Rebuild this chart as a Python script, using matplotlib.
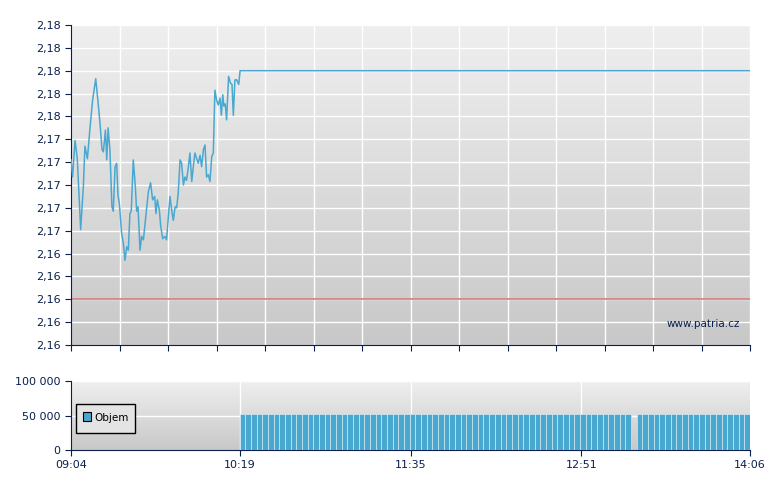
import numpy as np
import matplotlib
matplotlib.use("Agg")
import matplotlib.pyplot as plt
from matplotlib.patches import Rectangle

# minutes after 09:04
t = [0,0.7,1.8,2.8,4.3,5.5,6.2,7.3,8.5,9.6,11.0,12.2,12.9,13.8,14.4,15.3,15.9,16.5,17.3,18.2,18.8,19.6,20.3,20.9,21.5,
     22.5,23.3,24.0,24.8,25.5,26.2,26.8,27.7,28.6,29.2,29.8,30.7,31.4,32.2,33.4,34.4,35.4,36.3,37.2,37.8,38.4,39.3,39.9,
     40.8,41.8,42.5,43.3,44.0,44.8,45.5,46.3,47.0,47.7,48.5,49.2,50.0,50.7,51.4,52.2,52.9,53.7,54.4,55.1,55.9,56.6,57.4,
     58.1,58.9,59.6,60.3,61.1,61.8,62.6,63.3,64.0,64.8,65.5,66.3,66.9,67.5,68.0,68.6,69.2,70.1,71.0,71.6,72.2,72.9,73.7,
     74.6,75.2,302]
price = [2.1722,2.1707,2.1739,2.1723,2.1661,2.1699,2.1734,2.1723,2.1751,2.1774,2.1793,2.1769,2.1754,2.1731,2.1729,2.1748,
         2.1722,2.1750,2.1731,2.1681,2.1677,2.1716,2.1719,2.1691,2.1684,2.1658,2.1649,2.1634,2.1646,2.1643,2.1675,2.1677,
         2.1722,2.1699,2.1677,2.1681,2.1643,2.1655,2.1652,2.1675,2.1694,2.1702,2.1687,2.1690,2.1675,2.1687,2.1678,2.1664,
         2.1653,2.1655,2.1652,2.1672,2.1690,2.1678,2.1669,2.1681,2.1680,2.1693,2.1722,2.1719,2.1700,2.1707,2.1704,2.1716,
         2.1728,2.1703,2.1716,2.1728,2.1723,2.1719,2.1726,2.1716,2.1731,2.1735,2.1707,2.1709,2.1703,2.1725,2.1728,2.1783,
         2.1774,2.1770,2.1776,2.1761,2.1779,2.1769,2.1771,2.1757,2.1795,2.1789,2.1788,2.1761,2.1792,2.1792,2.1788,2.1800,
         2.1800]
ref_price = 2.160
y_ticks = [2.156,2.158,2.160,2.162,2.164,2.166,2.168,2.170,2.172,2.174,2.176,2.178,2.180,2.182,2.184]
y_labels = ["2,16"]*5 + ["2,17"]*5 + ["2,18"]*5
x_tick_min = [0,75,151,227,302]
x_tick_labels = ["09:04","10:19","11:35","12:51","14:06"]

vol_n = 90
vol_t = list(np.linspace(75, 299.5, vol_n))
vol = [52000]*vol_n
vol[69] = 0

navy = "#0a1f4f"
line_c = "#4aa8d0"
fig = plt.figure(figsize=(7.8, 4.9), dpi=100)
fig.patch.set_facecolor("white")

def grad(ax):
    g = np.linspace(0, 1, 256).reshape(-1, 1)
    ax.imshow(g, extent=[0, 1, 0, 1], transform=ax.transAxes, aspect="auto",
              cmap=matplotlib.colors.LinearSegmentedColormap.from_list("g", ["#c8c8c8", "#efefef"]),
              origin="lower", zorder=0)

def style(ax):
    for s in ["top", "right"]:
        ax.spines[s].set_visible(False)
    for s in ["left", "bottom"]:
        ax.spines[s].set_color(navy)
    ax.tick_params(colors=navy, labelcolor=navy, labelsize=8, length=4, width=0.8)

ax = fig.add_axes([71/780, 1-345/490, 679/780, 320/490])
grad(ax)
style(ax)
ax.set_xlim(0, 302)
ax.set_ylim(2.156, 2.184)
ax.set_yticks(y_ticks)
ax.set_yticklabels(y_labels)
xg = np.linspace(0, 302, 15)
ax.set_xticks(xg)
ax.set_xticklabels([])
for x in xg[1:]:
    ax.axvline(x, color="white", lw=1, zorder=1)
for y in y_ticks[1:]:
    ax.axhline(y, color="white", lw=1, zorder=1)
ax.axhline(ref_price, color="#d97a7a", lw=1.2, zorder=2)
ax.plot(t, price, color=line_c, lw=1.1, zorder=3)
ax.text(0.985, 0.065, "www.patria.cz", transform=ax.transAxes, ha="right", va="center",
        color=navy, fontsize=7.5, zorder=4)

bx = fig.add_axes([71/780, 1-450/490, 679/780, 69/490])
grad(bx)
style(bx)
bx.set_xlim(0, 302)
bx.set_ylim(0, 100000)
bx.set_yticks([0, 50000, 100000])
bx.set_yticklabels(["0", "50 000", "100 000"])
bx.set_xticks(x_tick_min)
bx.set_xticklabels(x_tick_labels)
for x in x_tick_min[1:-1]:
    bx.axvline(x, color="white", lw=1, zorder=1)
for y in [50000, 100000]:
    bx.axhline(y, color="white", lw=1, zorder=1)
bx.bar(vol_t, vol, width=2.52, align="edge", color="#48a8d0", edgecolor="#e8f2f8", linewidth=0.4, zorder=3)
bx.add_patch(Rectangle((0.007, 0.25), 0.087, 0.42, transform=bx.transAxes, facecolor="#e4e4e4",
                       edgecolor="black", lw=1, zorder=5))
bx.add_patch(Rectangle((0.018, 0.42), 0.011, 0.13, transform=bx.transAxes, facecolor="#48a8d0",
                       edgecolor="black", lw=0.8, zorder=6))
bx.text(0.034, 0.47, "Objem", transform=bx.transAxes, fontsize=7.5, va="center", color="black", zorder=6)

fig.savefig("out.png", dpi=100)
